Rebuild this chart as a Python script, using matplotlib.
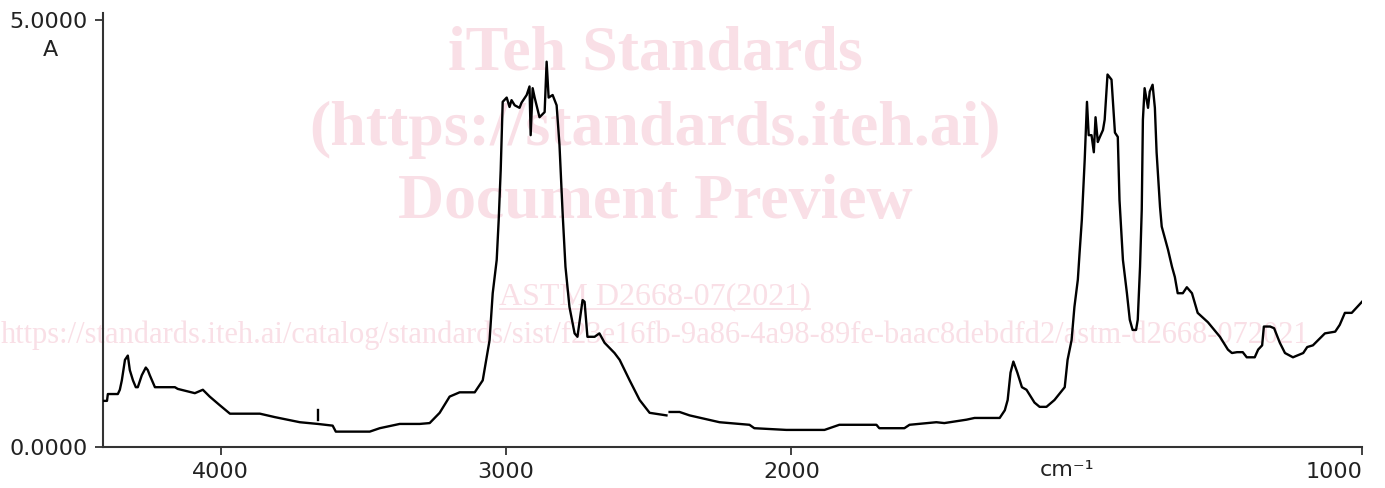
import numpy as np
import matplotlib
matplotlib.use("Agg")
import matplotlib.pyplot as plt
from matplotlib.lines import Line2D

# IR spectrum (wavenumber in cm-1, absorbance A)
wavenumber = [
    4413, 4399, 4396, 4361, 4354, 4347, 4336, 4326, 4319, 4308, 4298, 4291,
    4277, 4263, 4256, 4249, 4231, 4161, 4151, 4091, 4063, 4039, 4004, 3968,
    3863, 3811, 3723, 3660, 3608, 3597, 3478, 3443, 3373, 3303, 3268, 3233,
    3198, 3163, 3110, 3082, 3058, 3047, 3033, 3026, 3019, 3012, 2998, 2988,
    2981, 2970, 2953, 2946, 2928, 2918, 2914, 2907, 2900, 2883, 2865, 2858,
    2851, 2837, 2823, 2813, 2802, 2792, 2778, 2760, 2750, 2732, 2725, 2715,
    2690, 2673, 2655, 2620, 2602, 2567, 2532, 2497, 2438, 2433, 2427, 2392,
    2357, 2252, 2147, 2130, 2018, 1942, 1916, 1851, 1846, 1802, 1793, 1746,
    1732, 1693, 1679, 1635, 1626, 1621, 1616, 1611, 1604, 1596, 1588, 1574,
    1565, 1553, 1539, 1521, 1516, 1509, 1504, 1498, 1495, 1491, 1486, 1482,
    1479, 1474, 1470, 1467, 1463, 1460, 1454, 1451, 1446, 1439, 1433, 1428,
    1425, 1419, 1412, 1407, 1402, 1396, 1393, 1389, 1386, 1384, 1381, 1375,
    1372, 1367, 1363, 1360, 1354, 1351, 1340, 1333, 1328, 1323, 1314, 1307,
    1298, 1288, 1270, 1249, 1235, 1228, 1219, 1209, 1202, 1188, 1182, 1175,
    1172, 1161, 1154, 1144, 1135, 1121, 1103, 1096, 1086, 1065, 1047, 1039,
    1030, 1018, 1000,
]
absorbance = [
    0.54, 0.54, 0.62, 0.62, 0.67, 0.78, 1.02, 1.07, 0.90, 0.78, 0.70, 0.70,
    0.84, 0.93, 0.90, 0.84, 0.70, 0.70, 0.68, 0.63, 0.67, 0.59, 0.49, 0.39,
    0.39, 0.35, 0.29, 0.27, 0.25, 0.18, 0.18, 0.22, 0.27, 0.27, 0.28, 0.40,
    0.59, 0.64, 0.64, 0.78, 1.25, 1.80, 2.19, 2.66, 3.24, 4.04, 4.09, 3.98,
    4.06, 4.00, 3.97, 4.03, 4.12, 4.22, 3.65, 4.20, 4.09, 3.86, 3.92, 4.51,
    4.09, 4.12, 4.00, 3.54, 2.74, 2.11, 1.64, 1.33, 1.29, 1.72, 1.70, 1.29,
    1.29, 1.33, 1.22, 1.10, 1.02, 0.78, 0.55, 0.40, 0.37, np.nan, 0.41, 0.41,
    0.37, 0.29, 0.26, 0.22, 0.20, 0.20, 0.26, 0.26, 0.22, 0.22, 0.26, 0.29,
    0.28, 0.32, 0.34, 0.34, 0.43, 0.55, 0.87, 1.00, 0.87, 0.70, 0.67, 0.52,
    0.47, 0.47, 0.55, 0.70, 1.02, 1.25, 1.64, 1.96, 2.27, 2.66, 3.36, 4.04,
    3.65, 3.65, 3.45, 3.86, 3.57, 3.62, 3.71, 3.83, 4.36, 4.30, 3.68, 3.63,
    2.89, 2.19, 1.80, 1.49, 1.37, 1.37, 1.49, 2.11, 2.78, 3.83, 4.20, 3.97,
    4.16, 4.24, 3.97, 3.45, 2.81, 2.58, 2.31, 2.11, 1.99, 1.80, 1.80, 1.87,
    1.80, 1.57, 1.46, 1.29, 1.14, 1.10, 1.11, 1.11, 1.05, 1.05, 1.14, 1.19,
    1.41, 1.41, 1.39, 1.22, 1.10, 1.05, 1.10, 1.17, 1.19, 1.33, 1.35, 1.43,
    1.57, 1.57, 1.70,
]
# small spike artefact near 3660 cm-1
spike_x = [3660, 3660]
spike_y = [0.32, 0.43]

x_ticks = [4000, 3000, 2000, 1000]
y_ticks = [0.0, 5.0]
y_tick_labels = ["0.0000", "5.0000"]

watermark_lines = ["iTeh Standards", "(https://standards.iteh.ai)", "Document Preview"]
watermark_std = "ASTM D2668-07(2021)"
watermark_url = ("https://standards.iteh.ai/catalog/standards/sist/"
                 "f23e16fb-9a86-4a98-89fe-baac8debdfd2/astm-d2668-072021")


# the wavenumber axis is stretched 2x below 2000 cm-1
def fwd(w):
    w = np.asarray(w, dtype=float)
    return np.where(w >= 2000, w, 2 * w - 2000)


def inv(v):
    v = np.asarray(v, dtype=float)
    return np.where(v >= 2000, v, (v + 2000) / 2)


W, H = 1385, 488
fig = plt.figure(figsize=(W / 100, H / 100), dpi=100)
ax = fig.add_axes([103 / W, 41 / H, 1259 / W, 434 / H])

# watermark
pink = "#f9dfe6"
for line, base in zip(watermark_lines, [70, 145, 218]):
    ax.text(655 / W, 1 - base / H, line, transform=fig.transFigure,
            ha="center", va="baseline", fontsize=46, fontweight="bold",
            family="Liberation Serif", color=pink, zorder=0)
ax.text(655 / W, 1 - 304 / H, watermark_std, transform=fig.transFigure,
        ha="center", va="baseline", fontsize=23, family="Liberation Serif",
        color=pink, zorder=0)
fig.add_artist(Line2D([500 / W, 810 / W], [1 - 309 / H, 1 - 309 / H],
                      color=pink, lw=1.3, zorder=0))
ax.text(655 / W, 1 - 343 / H, watermark_url, transform=fig.transFigure,
        ha="center", va="baseline", fontsize=22, family="Liberation Serif",
        color=pink, zorder=0)

ax.plot(wavenumber, absorbance, color="black", lw=1.7, zorder=3)
ax.plot(spike_x, spike_y, color="black", lw=1.7, zorder=3)

ax.set_xscale("function", functions=(fwd, inv))
ax.set_xlim(4413, 1000)
ax.set_ylim(0, 5.08)
ax.patch.set_alpha(0)

ax.set_xticks(x_ticks)
ax.set_xticklabels([str(t) for t in x_ticks])
ax.get_xticklabels()[-1].set_ha("right")
ax.set_yticks(y_ticks)
ax.set_yticklabels(y_tick_labels)
ax.minorticks_off()
ax.tick_params(axis="both", length=6, width=1.3, color="#333333",
               labelsize=16, labelcolor="#222222")
ax.tick_params(axis="y", pad=5)
ax.tick_params(axis="x", pad=5)

for side in ["top", "right"]:
    ax.spines[side].set_visible(False)
for side in ["left", "bottom"]:
    ax.spines[side].set_linewidth(1.5)
    ax.spines[side].set_color("#333333")

fig.text(50 / W, 1 - 50 / H, "A", ha="center", va="center",
         fontsize=16, color="#222222")
fig.text(1067 / W, 1 - 470 / H, "cm⁻¹", ha="center", va="center",
         fontsize=16, color="#222222")

plt.savefig("out.png", dpi=100)
